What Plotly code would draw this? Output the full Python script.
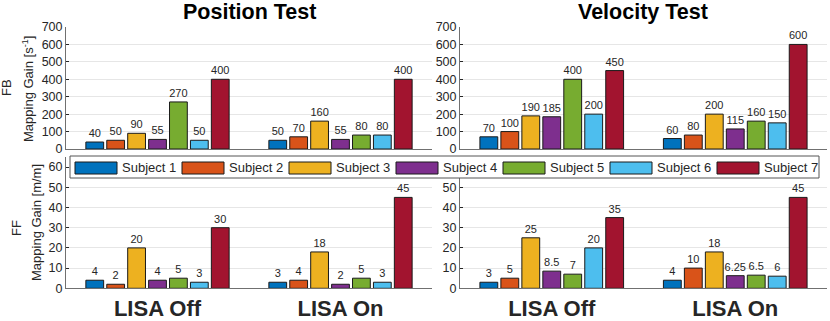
import plotly.graph_objects as go

W, H = 830, 321
FONT = "Liberation Sans, Arial, Helvetica, sans-serif"
INK = "#262626"

# data
conditions = ["LISA Off", "LISA On"]
subjects = ["Subject 1", "Subject 2", "Subject 3", "Subject 4",
            "Subject 5", "Subject 6", "Subject 7"]
colors = ["#0072BD", "#D95319", "#EDB120", "#7E2F8E",
          "#77AC30", "#4DBEEE", "#A2142F"]

# FB rows (mapping gain in s^-1), [LISA Off, LISA On] per subject
pos_fb_off = [40, 50, 90, 55, 270, 50, 400]
pos_fb_on = [50, 70, 160, 55, 80, 80, 400]
vel_fb_off = [70, 100, 190, 185, 400, 200, 450]
vel_fb_on = [60, 80, 200, 115, 160, 150, 600]
# FF rows (mapping gain in m/m)
pos_ff_off = [4, 2, 20, 4, 5, 3, 30]
pos_ff_on = [3, 4, 18, 2, 5, 3, 45]
vel_ff_off = [3, 5, 25, 8.5, 7, 20, 35]
vel_ff_on = [4, 10, 18, 6.25, 6.5, 6, 45]

fb_ticks = [0, 100, 200, 300, 400, 500, 600, 700]
ff_ticks = [0, 10, 20, 30, 40, 50, 60]

panels = [
    ("x", "y", pos_fb_off, pos_fb_on),
    ("x2", "y2", vel_fb_off, vel_fb_on),
    ("x3", "y3", pos_ff_off, pos_ff_on),
    ("x4", "y4", vel_ff_off, vel_ff_on),
]


def px_x(p):
    return p / W


def px_y(p):
    return 1 - p / H


fig = go.Figure()
for xa, ya, off, on in panels:
    for i, name in enumerate(subjects):
        vals = [off[i], on[i]]
        fig.add_trace(go.Bar(
            x=conditions, y=vals, name=name, xaxis=xa, yaxis=ya,
            marker=dict(color=colors[i], line=dict(color="#1a1a1a", width=1)),
            text=[f"{v:g}" for v in vals], textposition="outside",
            constraintext="none", cliponaxis=False,
            textfont=dict(family=FONT, size=11, color=INK),
            showlegend=False, hoverinfo="x+y+name",
        ))

left_dom = [px_x(66), px_x(432)]
right_dom = [px_x(460), px_x(827)]
top_dom = [px_y(149), px_y(27)]
bot_dom = [px_y(288.3), px_y(157)]

cat_labels = [f"<b>{c}</b>" for c in conditions]

xbase = dict(type="category", range=[-0.5, 1.5], showline=True,
             linecolor="#707070", linewidth=1, ticks="", showgrid=False,
             zeroline=False, automargin=False, tickvals=conditions,
             ticktext=cat_labels, ticklabelstandoff=0,
             tickfont=dict(family=FONT, size=22, color=INK))
ybase = dict(showline=True, linecolor="#707070", linewidth=1, ticks="inside",
             ticklen=3, tickcolor=INK, showgrid=True, gridcolor="#e6e6e6",
             gridwidth=1, zeroline=False, automargin=False,
             tickfont=dict(family=FONT, size=12.5, color=INK))

fig.update_layout(
    width=W, height=H,
    margin=dict(l=0, r=0, t=0, b=0),
    paper_bgcolor="white", plot_bgcolor="white",
    barmode="group", bargap=0.2, bargroupgap=0.15,
    font=dict(family=FONT, color=INK),
    xaxis=dict(xbase, domain=left_dom, anchor="y", showticklabels=False),
    xaxis2=dict(xbase, domain=right_dom, anchor="y2", showticklabels=False),
    xaxis3=dict(xbase, domain=left_dom, anchor="y3"),
    xaxis4=dict(xbase, domain=right_dom, anchor="y4"),
    yaxis=dict(ybase, domain=top_dom, anchor="x", range=[0, 700],
               tickvals=fb_ticks),
    yaxis2=dict(ybase, domain=top_dom, anchor="x2", range=[0, 700],
                tickvals=fb_ticks),
    yaxis3=dict(ybase, domain=bot_dom, anchor="x3", range=[0, 65],
                tickvals=ff_ticks),
    # the 60 label of the right panel sits under the legend box
    yaxis4=dict(ybase, domain=bot_dom, anchor="x4", range=[0, 65],
                tickvals=ff_ticks[:-1]),
)

# column titles
for txt, cx in [("Position Test", 249), ("Velocity Test", 643)]:
    fig.add_annotation(text=f"<b>{txt}</b>", xref="paper", yref="paper",
                       x=px_x(cx), y=px_y(12.5), showarrow=False,
                       xanchor="center", yanchor="middle", borderpad=0,
                       font=dict(family=FONT, size=21.5, color="black"))

# row labels / y titles
row_labels = [
    ("FB", 6, 88), ("Mapping Gain [s<sup>-1</sup>]", 28, 89),
    ("FF", 16, 228), ("Mapping Gain [m/m]", 36, 223),
]
for txt, cx, cy in row_labels:
    fig.add_annotation(text=txt, xref="paper", yref="paper",
                       x=px_x(cx), y=px_y(cy), textangle=-90, showarrow=False,
                       xanchor="center", yanchor="middle",
                       font=dict(family=FONT, size=13, color=INK))

# legend box, drawn over the top of the lower panels
fig.add_shape(type="rect", xref="paper", yref="paper",
              x0=px_x(70), x1=px_x(819), y0=px_y(178), y1=px_y(156),
              fillcolor="white", line=dict(color="#555555", width=1),
              layer="above")
for i, (name, col) in enumerate(zip(subjects, colors)):
    sx = 75 + i * 107
    fig.add_shape(type="rect", xref="paper", yref="paper",
                  x0=px_x(sx), x1=px_x(sx + 42), y0=px_y(174), y1=px_y(162),
                  fillcolor=col, line=dict(color="#1a1a1a", width=1),
                  layer="above")
    fig.add_annotation(text=name, xref="paper", yref="paper",
                       x=px_x(sx + 45), y=px_y(167.5), xanchor="left",
                       yanchor="middle", showarrow=False,
                       font=dict(family=FONT, size=13, color=INK))

# page has a default 8px body margin; drop it so the figure fills the window
fig.write_html("out.html", config={"displayModeBar": False},
               post_script="document.body.style.margin='0';")
